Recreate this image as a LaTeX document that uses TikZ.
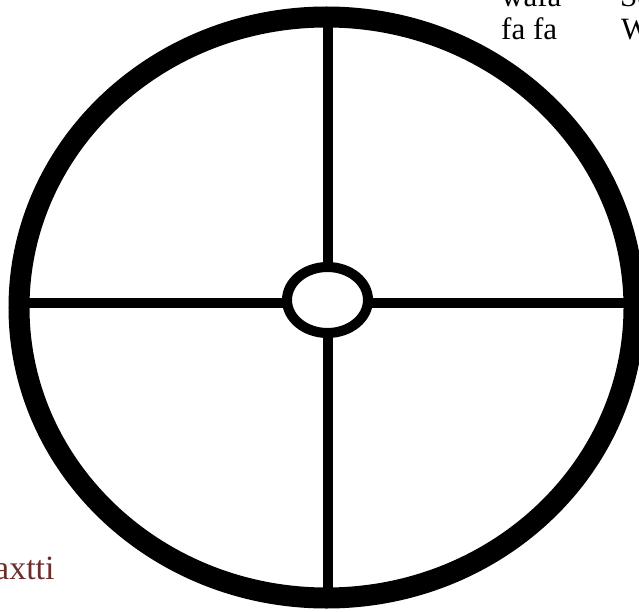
\documentclass[tikz,border=0pt]{standalone}
\usepackage{fontspec}
\setmainfont{Liberation Serif}
\usetikzlibrary{shapes.geometric}
\definecolor{labred}{RGB}{110,45,45}
\begin{document}
\begin{tikzpicture}[x=1pt,y=-1pt,
  ringline/.style={line width=21pt,draw=black},
  spoke/.style={line width=10pt,draw=black},
  hubnode/.style={ellipse,draw=black,fill=white,line width=10pt,minimum width=81pt,minimum height=66pt,inner sep=0pt},
  lbl/.style={anchor=base west,inner sep=0pt,font=\fontsize{31}{35}\selectfont}]
\useasboundingbox (0,0) rectangle (639,612);
\coordinate (c) at (326.5,307.5);
\coordinate (top) at (328,17);
\coordinate (bot) at (328,598);
\coordinate (lft) at (19,302.5);
\coordinate (rgt) at (634,302.5);
\draw[spoke] (top) -- (bot);
\draw[spoke] (lft) -- (rgt);
\draw[ringline] (c) ellipse [x radius=307.5,y radius=290.5];
\node[hubnode] (hub) at (327.5,300) {};
\node[lbl] (t1) at (501,7) {wafa};
\node[lbl] (t2) at (501,40) {fa fa};
\node[lbl] (t3) at (620,7) {Se};
\node[lbl] (t4) at (621,40) {W};
\node[lbl,text=labred,font=\fontsize{34}{38}\selectfont] (t5) at (-6,579) {axtti};
\end{tikzpicture}
\end{document}
